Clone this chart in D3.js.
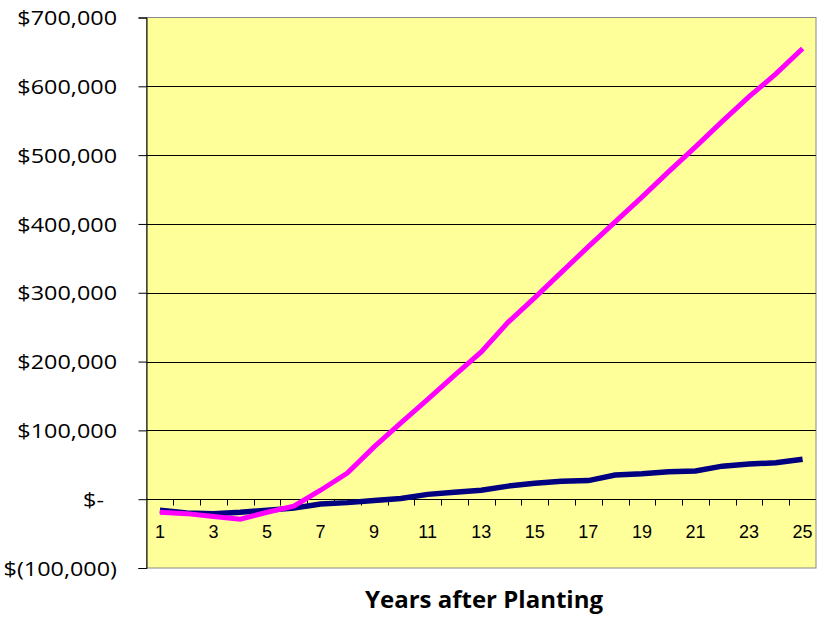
<!DOCTYPE html>
<html><head><meta charset="utf-8">
<script src="https://cdn.jsdelivr.net/npm/d3@7"></script>
<style>body{margin:0;background:#fff;}svg{display:block;}</style>
</head><body>
<script>
const years = d3.range(1, 26);
const seriesHigh = [-19000,-21000,-25000,-29000,-19000,-10000,13000,38000,76000,111000,145000,180000,214000,257000,293000,330000,367000,403000,439000,476000,512000,549000,585000,618000,655000];
const seriesLow = [-16000,-20000,-21000,-19000,-16000,-13000,-7000,-5000,-2000,1000,7000,10000,13000,19000,23000,26000,27000,35000,37000,40000,41000,48000,51000,53000,58000];
const yTicks = [-100000,0,100000,200000,300000,400000,500000,600000,700000];
const xLabelYears = [1,3,5,7,9,11,13,15,17,19,21,23,25];
const xTitle = "Years after Planting";

const W = 817, H = 617;
const L = 146.5, R = 816, T = 17.5, B = 568;
const svg = d3.select("body").append("svg").attr("width", W).attr("height", H);

const x = d3.scaleBand().domain(years).range([L, R]);
const y = d3.scaleLinear().domain([-100000, 700000]).range([B, T]);
const cx = d => x(d) + x.bandwidth()/2;

svg.append("rect").attr("x", L).attr("y", T).attr("width", R-L).attr("height", B-T)
  .attr("fill", "#FFFF99").attr("stroke", "#888").attr("stroke-width", 1);

// gridlines
svg.append("g").selectAll("line").data(yTicks.filter(v => v > 0 && v < 700000)).join("line")
  .attr("x1", L).attr("x2", R)
  .attr("y1", d => Math.round(y(d)) + 0.5).attr("y2", d => Math.round(y(d)) + 0.5)
  .attr("stroke", "#000").attr("stroke-width", 1);

// y axis
const SX = 1.17;
const fmt = v => v === 0 ? "$-" : (v < 0 ? "$(" + d3.format(",")(-v) + ")" : "$" + d3.format(",")(v));
const yAxis = svg.append("g").attr("transform", `translate(${L},0)`)
  .call(d3.axisLeft(y).tickValues(yTicks).tickSize(8).tickPadding(0).tickFormat(fmt));
yAxis.select(".domain").attr("stroke", "#000");
yAxis.selectAll(".tick line").attr("stroke", "#000");
yAxis.selectAll(".tick text").attr("font-family", "'Open Sans', sans-serif").attr("font-size", 20)
  .attr("fill", "#000").attr("dy", "0.36em")
  .attr("transform", `scale(${SX},1)`).attr("text-anchor", "end")
  .attr("x", (117 - L) / SX);
yAxis.selectAll(".tick text").filter(d => d === 0).attr("x", (104 - L) / SX);

// x axis at zero
const y0 = Math.round(y(0)) + 0.5;
svg.append("line").attr("x1", L).attr("x2", R).attr("y1", y0).attr("y2", y0).attr("stroke", "#000");
svg.append("g").selectAll("line").data(years.slice(1)).join("line")
  .attr("x1", d => Math.round(x(d)) + 0.5).attr("x2", d => Math.round(x(d)) + 0.5)
  .attr("y1", y0).attr("y2", y0 + 6).attr("stroke", "#000");
svg.append("g").selectAll("text").data(xLabelYears).join("text")
  .attr("x", d => cx(d)).attr("y", 538).attr("text-anchor", "middle")
  .attr("font-family", "'Liberation Sans', Arial, sans-serif").attr("font-size", 18)
  .attr("fill", "#000").text(d => d);

// lines
const line = d3.line().x((d, i) => cx(years[i])).y(d => y(d));
svg.append("path").datum(seriesLow).attr("d", line).attr("fill", "none")
  .attr("stroke", "#000080").attr("stroke-width", 5.5);
svg.append("path").datum(seriesHigh).attr("d", line).attr("fill", "none")
  .attr("stroke", "#FF00FF").attr("stroke-width", 5);

// title
svg.append("text").attr("x", 484).attr("y", 608).attr("text-anchor", "middle")
  .attr("font-family", "'Open Sans', sans-serif").attr("font-weight", "bold").attr("font-size", 24)
  .attr("fill", "#000").text(xTitle);
</script>
</body></html>
